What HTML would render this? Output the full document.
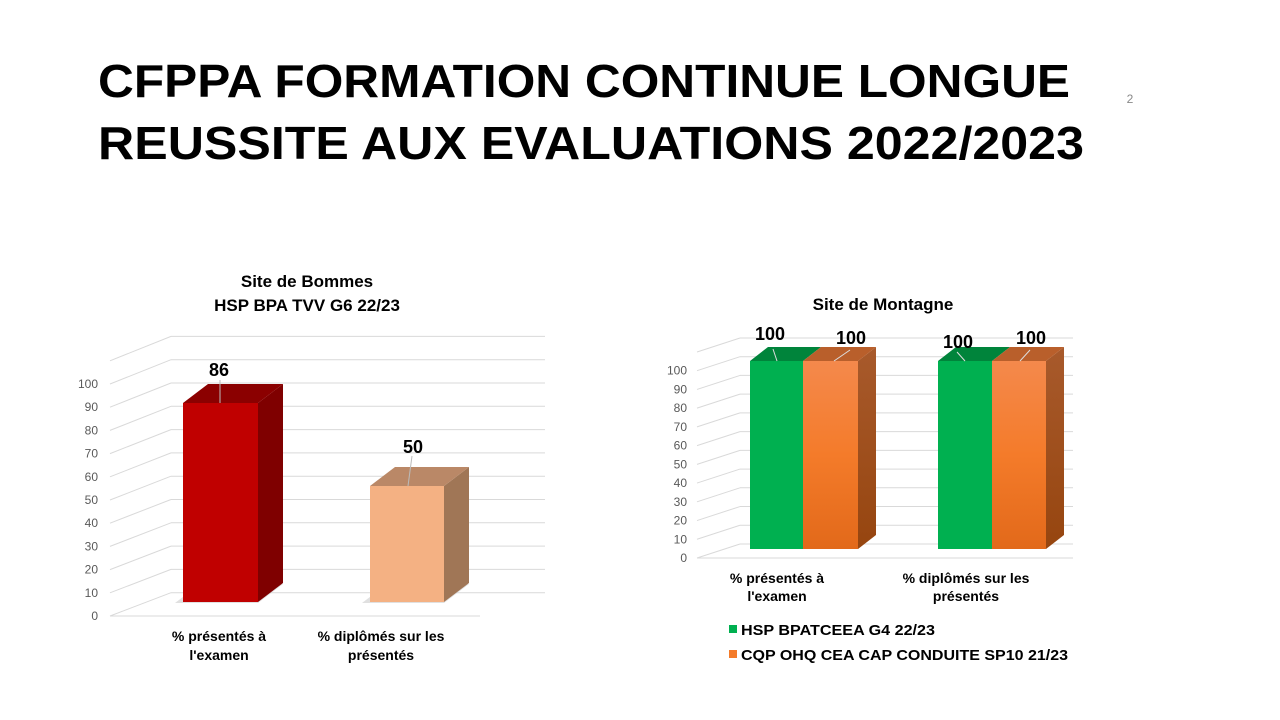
<!DOCTYPE html>
<html><head><meta charset="utf-8"><style>
html,body{margin:0;padding:0;background:#fff;width:1280px;height:720px;overflow:hidden}
svg text{font-family:"Liberation Sans",Arial,sans-serif}
</style></head><body>
<svg id="s" width="1280" height="720" xmlns="http://www.w3.org/2000/svg">
<defs>
<linearGradient id="og" x1="0" y1="0" x2="0" y2="1"><stop offset="0" stop-color="#F4894C"/><stop offset="0.5" stop-color="#F47B2A"/><stop offset="1" stop-color="#E2691A"/></linearGradient>
<linearGradient id="os" x1="0" y1="0" x2="0" y2="1"><stop offset="0" stop-color="#A85A2C"/><stop offset="1" stop-color="#96450F"/></linearGradient>
</defs>
<text x="98" y="97" font-size="46" font-weight="bold" textLength="972" lengthAdjust="spacingAndGlyphs">CFPPA FORMATION CONTINUE LONGUE</text>
<text x="98" y="159" font-size="46" font-weight="bold" textLength="986" lengthAdjust="spacingAndGlyphs">REUSSITE AUX EVALUATIONS 2022/2023</text>
<text x="1130" y="103" font-size="12" fill="#888" text-anchor="middle">2</text>

<text x="307" y="287" font-size="17" font-weight="bold" text-anchor="middle">Site de Bommes</text>
<text x="307" y="311" font-size="17" font-weight="bold" text-anchor="middle">HSP BPA TVV G6 22/23</text>
<text x="883" y="310" font-size="17" font-weight="bold" text-anchor="middle">Site de Montagne</text>
<g id="g1" stroke="#d9d9d9" stroke-width="1" fill="none"></g>
<g id="g2" stroke="#d9d9d9" stroke-width="1" fill="none"></g>
<g id="l1" font-size="12" fill="#595959" text-anchor="end"></g>
<g id="l2" font-size="12" fill="#595959" text-anchor="end"></g>

<polygon points="175,603 258,603 283,584 200,584" fill="#ccc" opacity="0.6"/>
<rect x="183" y="403" width="75" height="199" fill="#C00000"/>
<polygon points="258,403 283,384 283,583 258,602" fill="#7F0000"/>
<polygon points="183,403 208,384 283,384 258,403" fill="#8B0000"/>
<polygon points="362,603 444,603 469,584 387,584" fill="#ccc" opacity="0.6"/>
<rect x="370" y="486" width="74" height="116" fill="#F4B183"/>
<polygon points="444,486 469,467 469,583 444,602" fill="#A07656"/>
<polygon points="370,486 395,467 469,467 444,486" fill="#BA8867"/>
<line x1="220" y1="380" x2="220" y2="403" stroke="#bbb"/>
<line x1="412" y1="456" x2="408" y2="486" stroke="#bbb"/>
<text x="219" y="376" font-size="18" font-weight="bold" text-anchor="middle">86</text>
<text x="413" y="453" font-size="18" font-weight="bold" text-anchor="middle">50</text>
<g font-size="14" font-weight="bold" text-anchor="middle">
<text x="219" y="641">% présentés à</text><text x="219" y="660">l'examen</text>
<text x="381" y="641">% diplômés sur les</text><text x="381" y="660">présentés</text>
</g>

<rect x="750" y="361" width="53" height="188" fill="#00B050"/>
<rect x="803" y="361" width="55" height="188" fill="url(#og)"/>
<polygon points="858,361 876,347 876,535 858,549" fill="url(#os)"/>
<polygon points="750,361 768,347 821,347 803,361" fill="#00843B"/>
<polygon points="803,361 821,347 876,347 858,361" fill="#B95F2B"/>
<rect x="938" y="361" width="54" height="188" fill="#00B050"/>
<rect x="992" y="361" width="54" height="188" fill="url(#og)"/>
<polygon points="1046,361 1064,347 1064,535 1046,549" fill="url(#os)"/>
<polygon points="938,361 956,347 1010,347 992,361" fill="#00843B"/>
<polygon points="992,361 1010,347 1064,347 1046,361" fill="#B95F2B"/>
<g font-size="18" font-weight="bold" text-anchor="middle">
<text x="770" y="340">100</text><text x="851" y="344">100</text>
<text x="958" y="348">100</text><text x="1031" y="344">100</text>
</g>
<g stroke="#ddd"><line x1="773" y1="349" x2="777" y2="361"/><line x1="850" y1="350" x2="834" y2="361"/><line x1="957" y1="352" x2="965" y2="361"/><line x1="1030" y1="350" x2="1020" y2="361"/></g>
<g font-size="14" font-weight="bold" text-anchor="middle">
<text x="777" y="583">% présentés à</text><text x="777" y="601">l'examen</text>
<text x="966" y="583">% diplômés sur les</text><text x="966" y="601">présentés</text>
</g>
<rect x="729" y="625" width="8" height="8" fill="#00B050"/>
<rect x="729" y="650" width="8" height="8" fill="#F47B2A"/>
<g font-size="15" font-weight="bold">
<text x="741" y="635" textLength="194" lengthAdjust="spacingAndGlyphs">HSP BPATCEEA G4 22/23</text>
<text x="741" y="660" textLength="327" lengthAdjust="spacingAndGlyphs">CQP OHQ CEA CAP CONDUITE SP10 21/23</text>
</g>
</svg>
<script>
var NS="http://www.w3.org/2000/svg";
function L(g,a){var e=document.createElementNS(NS,"line");for(var k in a)e.setAttribute(k,a[k]);document.getElementById(g).appendChild(e);}
function T(g,x,y,t){var e=document.createElementNS(NS,"text");e.setAttribute("x",x);e.setAttribute("y",y);e.textContent=t;document.getElementById(g).appendChild(e);}
for(var k=0;k<=11;k++){
 var fy=616-23.2*k, by=592.7-23.3*k;
 L("g1",{x1:171,y1:by,x2:545,y2:by});
 L("g1",{x1:110,y1:fy,x2:171,y2:by});
 if(k<=10)T("l1",98,fy+4,String(k*10));
}
L("g1",{x1:110,y1:616,x2:480,y2:616});
for(var k=0;k<=11;k++){
 var fy=558-18.73*k, by=544-18.73*k;
 L("g2",{x1:740,y1:by,x2:1073,y2:by});
 L("g2",{x1:697,y1:fy,x2:740,y2:by});
 if(k<=10)T("l2",687,fy+4,String(k*10));
}
L("g2",{x1:697,y1:558,x2:1073,y2:558});
</script>
</body></html>
